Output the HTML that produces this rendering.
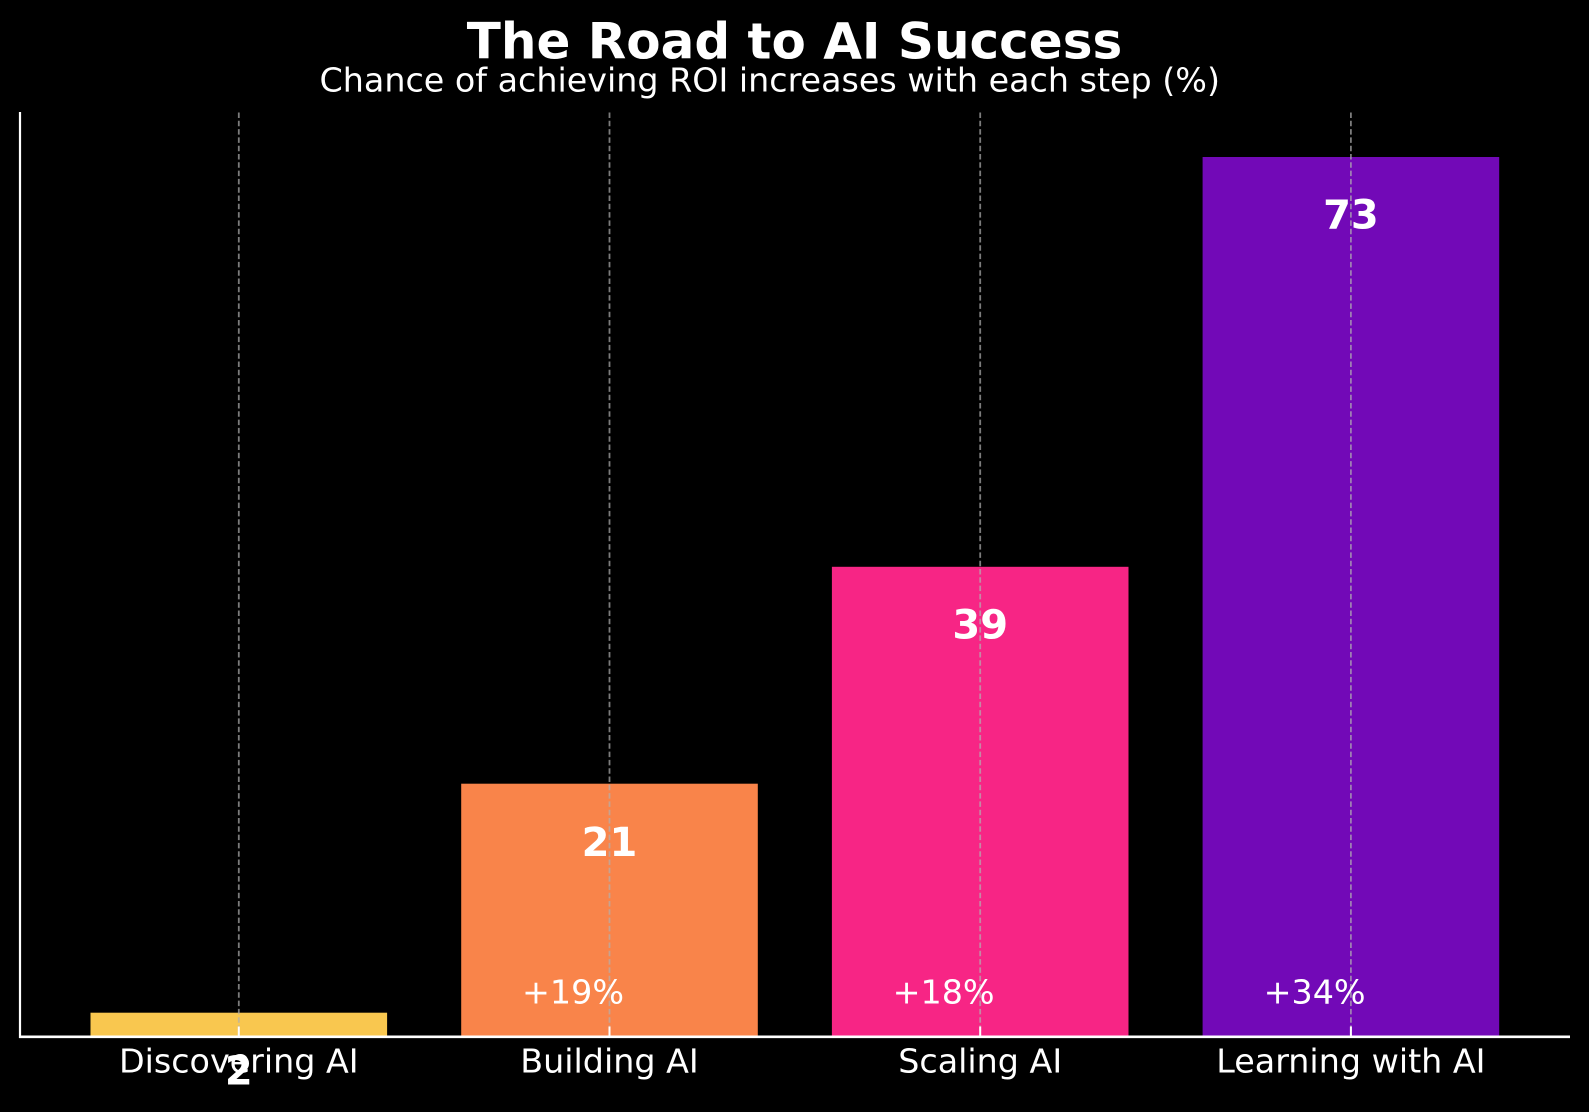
<!DOCTYPE html>
<html>
<head>
<meta charset="utf-8">
<style>
  html, body { margin: 0; padding: 0; background: #000; }
  svg { display: block; }
  text { font-family: "DejaVu Sans", "Liberation Sans", sans-serif; fill: #fff; }
</style>
</head>
<body>
<svg width="1589" height="1112" viewBox="0 0 1589 1112" xmlns="http://www.w3.org/2000/svg">
  <rect x="0" y="0" width="1589" height="1112" fill="#000"/>

  <!-- Title -->
  <text x="794.5" y="58.5" font-size="50" font-weight="bold" text-anchor="middle">The Road to AI Success</text>
  <text x="319.5" y="91.7" font-size="33.33">Chance of achieving ROI increases with each step (%)</text>

  <!-- Bars -->
  <rect x="90.5" y="1012.7" width="296.6" height="24.3" fill="#F9C74F"/>
  <rect x="461.2" y="783.7" width="296.6" height="253.3" fill="#F9844A"/>
  <rect x="831.9" y="566.8" width="296.6" height="470.2" fill="#F72585"/>
  <rect x="1202.6" y="157" width="296.6" height="880" fill="#7209B7"/>

  <!-- Grid lines -->
  <g stroke="rgba(176,176,176,0.7)" stroke-width="1.8" stroke-dasharray="5.5 2.8">
    <line x1="238.8" y1="112.5" x2="238.8" y2="1036"/>
    <line x1="609.5" y1="112.5" x2="609.5" y2="1036"/>
    <line x1="980.2" y1="112.5" x2="980.2" y2="1036"/>
    <line x1="1350.9" y1="112.5" x2="1350.9" y2="1036"/>
  </g>

  <!-- Spines -->
  <line x1="20" y1="112" x2="20" y2="1038" stroke="#fff" stroke-width="2.2"/>
  <line x1="19" y1="1036.8" x2="1570" y2="1036.8" stroke="#fff" stroke-width="2.6"/>

  <!-- Ticks (inward) -->
  <g stroke="#fff" stroke-width="2">
    <line x1="238.8" y1="1026.5" x2="238.8" y2="1037"/>
    <line x1="609.5" y1="1026.5" x2="609.5" y2="1037"/>
    <line x1="980.2" y1="1026.5" x2="980.2" y2="1037"/>
    <line x1="1350.9" y1="1026.5" x2="1350.9" y2="1037"/>
  </g>

  <!-- Tick labels -->
  <g font-size="33.33" text-anchor="middle">
    <text x="238.8" y="1072.7">Discovering AI</text>
    <text x="609.5" y="1072.7">Building AI</text>
    <text x="980.2" y="1072.7">Scaling AI</text>
    <text x="1350.9" y="1072.7">Learning with AI</text>
  </g>

  <!-- Value labels -->
  <g font-size="40" font-weight="bold" text-anchor="middle">
    <text x="238.8" y="1084.3">2</text>
    <text x="609.5" y="855.8">21</text>
    <text x="980.2" y="638.3">39</text>
    <text x="1350.9" y="228.5">73</text>
  </g>

  <!-- Increase labels -->
  <g font-size="33.33" text-anchor="middle">
    <text x="573" y="1003.3">+19%</text>
    <text x="943.6" y="1003.3">+18%</text>
    <text x="1314.6" y="1003.3">+34%</text>
  </g>
</svg>
</body>
</html>
